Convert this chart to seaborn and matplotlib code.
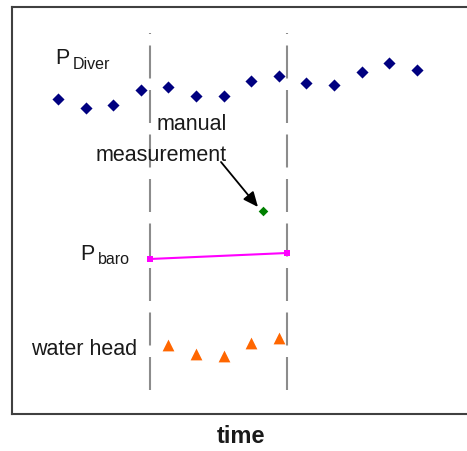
import matplotlib
matplotlib.use("Agg")
import matplotlib.pyplot as plt
import seaborn as sns
import pandas as pd

# ---- data (arbitrary pressure units vs. time index) ----
time = list(range(14))
p_diver = [31.5, 30.6, 30.9, 32.4, 32.7, 31.8, 31.8, 33.3, 33.8, 33.1, 32.9, 34.2, 35.1, 34.4]

head_time = [4, 5, 6, 7, 8]
water_head = [6.9, 6.0, 5.8, 7.1, 7.6]

baro_time = [3.33, 8.3]
p_baro = [15.5, 16.1]

manual_time = [7.43]
manual_value = [20.3]

window = [3.33, 8.3]          # measurement window (dashed lines)
window_span = [2.4, 38.15]

sns.set_style("white")
plt.rcParams["font.family"] = ["Liberation Sans", "DejaVu Sans"]

W, H = 467, 451
fig = plt.figure(figsize=(W / 100, H / 100), dpi=100)
ax = fig.add_axes([12 / W, (H - 414) / H, (470 - 12) / W, (414 - 7) / H])

# dashed window lines
for xv in window:
    ax.plot([xv, xv], window_span, color="#8c8c8c", lw=1.5,
            linestyle=(0, (15.84, 5.52)), dash_capstyle="butt", zorder=1)

df_diver = pd.DataFrame({"time": time, "p": p_diver})
sns.scatterplot(data=df_diver, x="time", y="p", marker="D", s=38,
                color="#000080", linewidth=0, ax=ax, zorder=3)

df_head = pd.DataFrame({"time": head_time, "h": water_head})
sns.scatterplot(data=df_head, x="time", y="h", marker="^", s=72,
                color="#ff6600", linewidth=0, ax=ax, zorder=3)

df_baro = pd.DataFrame({"time": baro_time, "p": p_baro})
sns.lineplot(data=df_baro, x="time", y="p", color="#ff00ff", lw=1.5,
             marker="s", markersize=5, markeredgewidth=0, ax=ax, zorder=3)

df_man = pd.DataFrame({"time": manual_time, "p": manual_value})
sns.scatterplot(data=df_man, x="time", y="p", marker="D", s=24,
                color="#008000", linewidth=0, ax=ax, zorder=4)

ax.annotate("", xy=(7.246, 20.7), xytext=(5.906, 25.2),
            arrowprops=dict(arrowstyle="-|>,head_length=0.5,head_width=0.22",
                            color="black", lw=1.3, mutation_scale=18,
                            shrinkA=0, shrinkB=0), zorder=5)

txt = dict(color="#1a1a1a", va="baseline")
ax.text(-0.109, 35.0, "P", fontsize=15.5, ha="left", **txt)
ax.text(0.525, 34.5, "Diver", fontsize=11.5, ha="left", **txt)
ax.text(0.815, 15.4, "P", fontsize=15.5, ha="left", **txt)
ax.text(1.431, 15.0, "baro", fontsize=11.5, ha="left", **txt)
ax.text(2.862, 5.9, "water head", fontsize=15.5, ha="right", **txt)
ax.text(6.123, 28.4, "manual", fontsize=15.5, ha="right", **txt)
ax.text(6.123, 25.3, "measurement", fontsize=15.5, ha="right", **txt)

ax.set_xlim(-1.667, 14.928)
ax.set_ylim(0, 40.7)
ax.set_xticks([])
ax.set_yticks([])
ax.set_ylabel("")
ax.set_xlabel("time", fontsize=17, fontweight="bold", color="#1a1a1a")
ax.xaxis.set_label_coords(0.5, -0.0713)
ax.xaxis.label.set_va("baseline")
if ax.get_legend() is not None:
    ax.get_legend().remove()

for sp in ax.spines.values():
    sp.set_visible(True)
    sp.set_color("#404040")
    sp.set_linewidth(1.5)

fig.savefig("out.png", dpi=100)
